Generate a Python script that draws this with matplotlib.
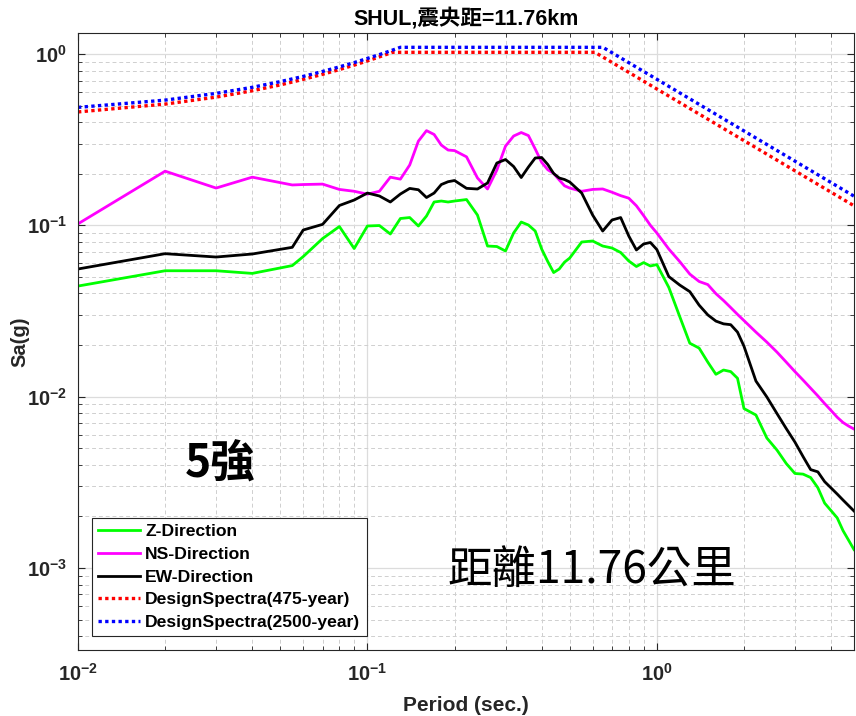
import matplotlib
matplotlib.use("Agg")
import matplotlib.pyplot as plt
from matplotlib.ticker import LogLocator, FixedLocator, NullFormatter

plt.rcParams['font.family'] = ['Liberation Sans', 'Noto Sans CJK TC', 'DejaVu Sans']
plt.rcParams['mathtext.fontset'] = 'custom'
plt.rcParams['mathtext.rm'] = 'Liberation Sans'
plt.rcParams['mathtext.bf'] = 'Liberation Sans:bold'

# ---------------- data ----------------
periods = [0.01, 0.02, 0.03, 0.04, 0.055, 0.06, 0.07, 0.08, 0.09, 0.10,
           0.11, 0.12, 0.13, 0.14, 0.15, 0.16, 0.17, 0.18, 0.19, 0.20,
           0.22, 0.24, 0.26, 0.28, 0.30, 0.32, 0.34, 0.36, 0.38, 0.40,
           0.42, 0.44, 0.46, 0.48, 0.50, 0.55, 0.60, 0.65, 0.70, 0.75,
           0.80, 0.85, 0.90, 0.95, 1.0, 1.1, 1.2, 1.3, 1.4, 1.5,
           1.6, 1.7, 1.8, 1.9, 2.0, 2.2, 2.4, 2.6, 2.8, 3.0,
           3.2, 3.4, 3.6, 3.8, 4.0, 4.2, 4.4, 4.6, 4.8]

z_dir = [0.0442, 0.0543, 0.0543, 0.0524, 0.0582, 0.0657, 0.0837, 0.0984, 0.0732, 0.0991,
         0.0997, 0.0890, 0.1096, 0.1110, 0.0991, 0.1133, 0.1368, 0.1386, 0.1368, 0.1386,
         0.1414, 0.1148, 0.0757, 0.0752, 0.0708, 0.0902, 0.1045, 0.1004, 0.0926, 0.0727,
         0.0614, 0.0530, 0.0556, 0.0610, 0.0644, 0.0799, 0.0810, 0.0757, 0.0737, 0.0694,
         0.0619, 0.0575, 0.0606, 0.0579, 0.0590, 0.0434, 0.0293, 0.0205, 0.0192, 0.0159,
         0.0135, 0.0143, 0.0140, 0.0128, 0.00852, 0.00781, 0.00573, 0.00488, 0.00407, 0.00356,
         0.00353, 0.00337, 0.00294, 0.00239, 0.00216, 0.00196, 0.00165, 0.00145, 0.00128]

ns_dir = [0.102, 0.207, 0.165, 0.191, 0.172, 0.173, 0.174, 0.162, 0.158, 0.152,
          0.158, 0.191, 0.186, 0.225, 0.310, 0.357, 0.339, 0.294, 0.275, 0.273,
          0.251, 0.189, 0.163, 0.210, 0.290, 0.332, 0.348, 0.334, 0.279, 0.233,
          0.211, 0.201, 0.184, 0.170, 0.165, 0.158, 0.162, 0.163, 0.156, 0.149,
          0.144, 0.130, 0.114, 0.100, 0.0902, 0.0727, 0.0614, 0.0519, 0.0470, 0.0451,
          0.0399, 0.0364, 0.0331, 0.0302, 0.0278, 0.0238, 0.0208, 0.0182, 0.0159, 0.0140,
          0.0125, 0.0112, 0.0101, 0.00911, 0.00830, 0.00758, 0.00706, 0.00673, 0.00647]

ew_dir = [0.0556, 0.0683, 0.0653, 0.0680, 0.0744, 0.0939, 0.1013, 0.1305, 0.1405, 0.1543,
          0.1483, 0.1368, 0.1523, 0.1642, 0.1613, 0.1453, 0.1543, 0.1730, 0.1797, 0.1826,
          0.1644, 0.1629, 0.1766, 0.2310, 0.2421, 0.2204, 0.1901, 0.2189, 0.2471, 0.2487,
          0.2264, 0.2006, 0.1888, 0.1850, 0.1790, 0.1543, 0.1148, 0.0926, 0.1074, 0.1110,
          0.0866, 0.0718, 0.0778, 0.0794, 0.0722, 0.0502, 0.0448, 0.0410, 0.0342, 0.0300,
          0.0276, 0.0266, 0.0263, 0.0238, 0.0197, 0.01233, 0.00995, 0.00797, 0.00651, 0.00543,
          0.00447, 0.00375, 0.00364, 0.00319, 0.00293, 0.00270, 0.00249, 0.00231, 0.00215]

ds475_periods = [0.01, 0.02, 0.03, 0.04, 0.05, 0.06, 0.07, 0.08, 0.09, 0.10, 0.11, 0.122, 0.611, 4.8]
ds475_values = [0.459, 0.510, 0.560, 0.610, 0.660, 0.711, 0.761, 0.811, 0.861, 0.911, 0.962, 1.023, 1.023, 0.130]

ds2500_periods = [0.01, 0.02, 0.03, 0.04, 0.05, 0.06, 0.07, 0.08, 0.09, 0.10, 0.11, 0.12, 0.13, 0.651, 4.8]
ds2500_values = [0.488, 0.538, 0.589, 0.639, 0.690, 0.740, 0.791, 0.841, 0.891, 0.942, 0.992, 1.043, 1.094, 1.094, 0.148]

xtick_values = [0.01, 0.1, 1]
xtick_labels = [r'$\mathbf{10^{-2}}$', r'$\mathbf{10^{-1}}$', r'$\mathbf{10^{0}}$']
ytick_values = [0.001, 0.01, 0.1, 1]
ytick_labels = [r'$\mathbf{10^{-3}}$', r'$\mathbf{10^{-2}}$', r'$\mathbf{10^{-1}}$', r'$\mathbf{10^{0}}$']

title_text = 'SHUL,震央距=11.76km'
note_intensity = '5強'
note_distance = '距離11.76公里'

# ---------------- figure ----------------
W, H = 856, 716
fig = plt.figure(figsize=(W / 100, H / 100), dpi=100)
ax = fig.add_axes([78 / W, 1 - 650 / H, (854 - 78) / W, (650 - 33) / H])

ax.plot(periods, z_dir, color='#00ff00', lw=2.0, label='Z-Direction')
ax.plot(periods, ns_dir, color='#ff00ff', lw=2.0, label='NS-Direction')
ax.plot(periods, ew_dir, color='black', lw=2.0, label='EW-Direction')
ax.plot(ds475_periods, ds475_values, color='#ff0000', lw=2.4, ls=(0, (1, 1)),
        label='DesignSpectra(475-year)')
ax.plot(ds2500_periods, ds2500_values, color='#0000ff', lw=2.4, ls=(0, (1, 1)),
        label='DesignSpectra(2500-year)')

ax.set_xscale('log')
ax.set_yscale('log')
ax.set_xlim(0.01, 4.8)
ax.set_ylim(3.32e-4, 1.326)

ax.xaxis.set_major_locator(FixedLocator(xtick_values))
ax.set_xticklabels(xtick_labels)
ax.yaxis.set_major_locator(FixedLocator(ytick_values))
ax.set_yticklabels(ytick_labels)
ax.xaxis.set_minor_locator(LogLocator(base=10, subs=range(2, 10), numticks=20))
ax.yaxis.set_minor_locator(LogLocator(base=10, subs=range(2, 10), numticks=20))
ax.xaxis.set_minor_formatter(NullFormatter())
ax.yaxis.set_minor_formatter(NullFormatter())

ax.tick_params(which='both', direction='in', top=True, right=True, colors='#262626')
ax.tick_params(which='major', length=5, width=0.8, labelsize=14.5)
ax.tick_params(which='minor', length=3, width=0.6)
ax.tick_params(axis='x', which='major', pad=9)
ax.tick_params(axis='y', which='major', pad=8)
for lab in ax.get_xticklabels() + ax.get_yticklabels():
    lab.set_color('#262626')

for s in ax.spines.values():
    s.set_color('#262626')
    s.set_linewidth(0.8)

ax.grid(which='major', color='#dcdcdc', lw=0.9, ls='-')
ax.grid(which='minor', color='#cfcfcf', lw=0.7, ls=(0, (4, 3)))
ax.set_axisbelow(True)

ax.set_title(title_text, fontsize=15.5, fontweight='bold', color='black', pad=6)
ax.set_xlabel('Period (sec.)', fontsize=15, fontweight='bold', color='#262626', labelpad=8)
ax.set_ylabel('Sa(g)', fontsize=14.5, fontweight='bold', color='#262626')
ax.yaxis.set_label_coords(-0.062, 0.5)

ax.text((220 - 78) / (854 - 78), (650 - 465) / (650 - 33), note_intensity,
        transform=ax.transAxes, ha='center', va='center', fontsize=32,
        fontweight='bold', family=['Noto Sans CJK TC'], color='black')
ax.text((592 - 78) / (854 - 78), (650 - 570) / (650 - 33), note_distance,
        transform=ax.transAxes, ha='center', va='center', fontsize=32,
        family=['Noto Sans CJK TC'], color='black')

leg = ax.legend(loc='lower left', bbox_to_anchor=((92 - 78) / 776, (650 - 636) / 617),
                borderaxespad=0, fancybox=False, framealpha=1, edgecolor='#262626',
                prop={'weight': 'bold', 'size': 12.6}, handlelength=2.4,
                handletextpad=0.3, labelspacing=0.42, borderpad=0.35)
leg.get_frame().set_linewidth(0.8)

fig.savefig('out.png', dpi=100)
